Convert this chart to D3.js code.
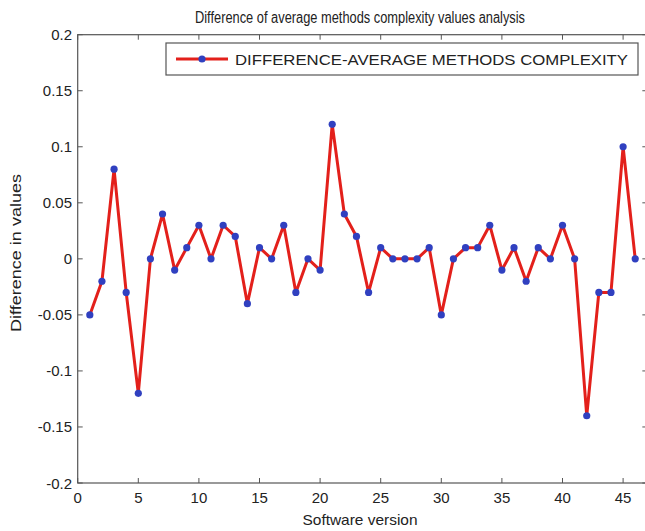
<!DOCTYPE html>
<html><head><meta charset="utf-8">
<script src="https://cdn.jsdelivr.net/npm/d3@7/dist/d3.min.js"></script>
<style>body{margin:0;background:#fff}svg{display:block}text{font-family:"Liberation Sans",Arial,sans-serif;fill:#222}</style>
</head><body><svg id="c" width="645" height="531"></svg>
<script>
const versions = d3.range(1, 47);
const values = [-0.05,-0.02,0.08,-0.03,-0.12,0,0.04,-0.01,0.01,0.03,0,0.03,0.02,-0.04,0.01,0,0.03,-0.03,0,-0.01,0.12,0.04,0.02,-0.03,0.01,0,0,0,0.01,-0.05,0,0.01,0.01,0.03,-0.01,0.01,-0.02,0.01,0,0.03,0,-0.14,-0.03,-0.03,0.1,0];
const xTicks = [0,5,10,15,20,25,30,35,40,45];
const yTicks = [-0.2,-0.15,-0.1,-0.05,0,0.05,0.1,0.15,0.2];
const yTickLabels = ["-0.2","-0.15","-0.1","-0.05","0","0.05","0.1","0.15","0.2"];
const titleText = "Difference of average methods complexity values analysis";
const legendText = "DIFFERENCE-AVERAGE METHODS COMPLEXITY";

const svg = d3.select("#c");
const L = 77.7, T = 34.7, B = 483, R = L + 47*12.12;
const x = d3.scaleLinear().domain([0,47]).range([L,R]);
const y = d3.scaleLinear().domain([-0.2,0.2]).range([B,T]);
const axisCol = "#555";

const g = svg.append("g");
xTicks.forEach(t => {
  g.append("line").attr("x1",x(t)).attr("x2",x(t)).attr("y1",B).attr("y2",B-5).attr("stroke",axisCol);
  g.append("line").attr("x1",x(t)).attr("x2",x(t)).attr("y1",T).attr("y2",T+5).attr("stroke",axisCol);
  g.append("text").attr("x",x(t)).attr("y",503).attr("text-anchor","middle").attr("font-size",15).text(t);
});
yTicks.forEach((t,i) => {
  g.append("line").attr("x1",L).attr("x2",L+5).attr("y1",y(t)).attr("y2",y(t)).attr("stroke",axisCol);
  g.append("line").attr("x1",R).attr("x2",R-5).attr("y1",y(t)).attr("y2",y(t)).attr("stroke",axisCol);
  g.append("text").attr("x",72).attr("y",y(t)+5.5).attr("text-anchor","end").attr("font-size",15).text(yTickLabels[i]);
});
g.append("rect").attr("x",L).attr("y",T).attr("width",R-L).attr("height",B-T).attr("fill","none").attr("stroke",axisCol).attr("stroke-width",1.2);

const line = d3.line().x((d,i)=>x(versions[i])).y(d=>y(d));
svg.append("path").datum(values).attr("d",line).attr("fill","none").attr("stroke","#e3201b").attr("stroke-width",3).attr("stroke-linejoin","round");
svg.selectAll("circle.pt").data(values).join("circle").attr("class","pt")
  .attr("cx",(d,i)=>x(versions[i])).attr("cy",d=>y(d)).attr("r",3.6).attr("fill","#3040c0");

const lg = svg.append("g");
lg.append("rect").attr("x",166).attr("y",43).attr("width",472).attr("height",32).attr("fill","#fff").attr("stroke",axisCol).attr("stroke-width",1.2);
lg.append("line").attr("x1",176).attr("x2",228).attr("y1",59).attr("y2",59).attr("stroke","#e3201b").attr("stroke-width",3);
lg.append("circle").attr("cx",202).attr("cy",59).attr("r",3.6).attr("fill","#3040c0");
lg.append("text").attr("x",235).attr("y",65).attr("font-size",15).attr("textLength",393).attr("lengthAdjust","spacingAndGlyphs").text(legendText);

svg.append("text").attr("x",360).attr("y",23).attr("text-anchor","middle").attr("font-size",16).attr("textLength",330).attr("lengthAdjust","spacingAndGlyphs").text(titleText);
svg.append("text").attr("x",360).attr("y",525).attr("text-anchor","middle").attr("font-size",15).attr("textLength",115).attr("lengthAdjust","spacingAndGlyphs").text("Software version");
svg.append("text").attr("transform","translate(21,253) rotate(-90)").attr("text-anchor","middle").attr("font-size",15).attr("textLength",158).attr("lengthAdjust","spacingAndGlyphs").text("Difference in values");
</script></body></html>
